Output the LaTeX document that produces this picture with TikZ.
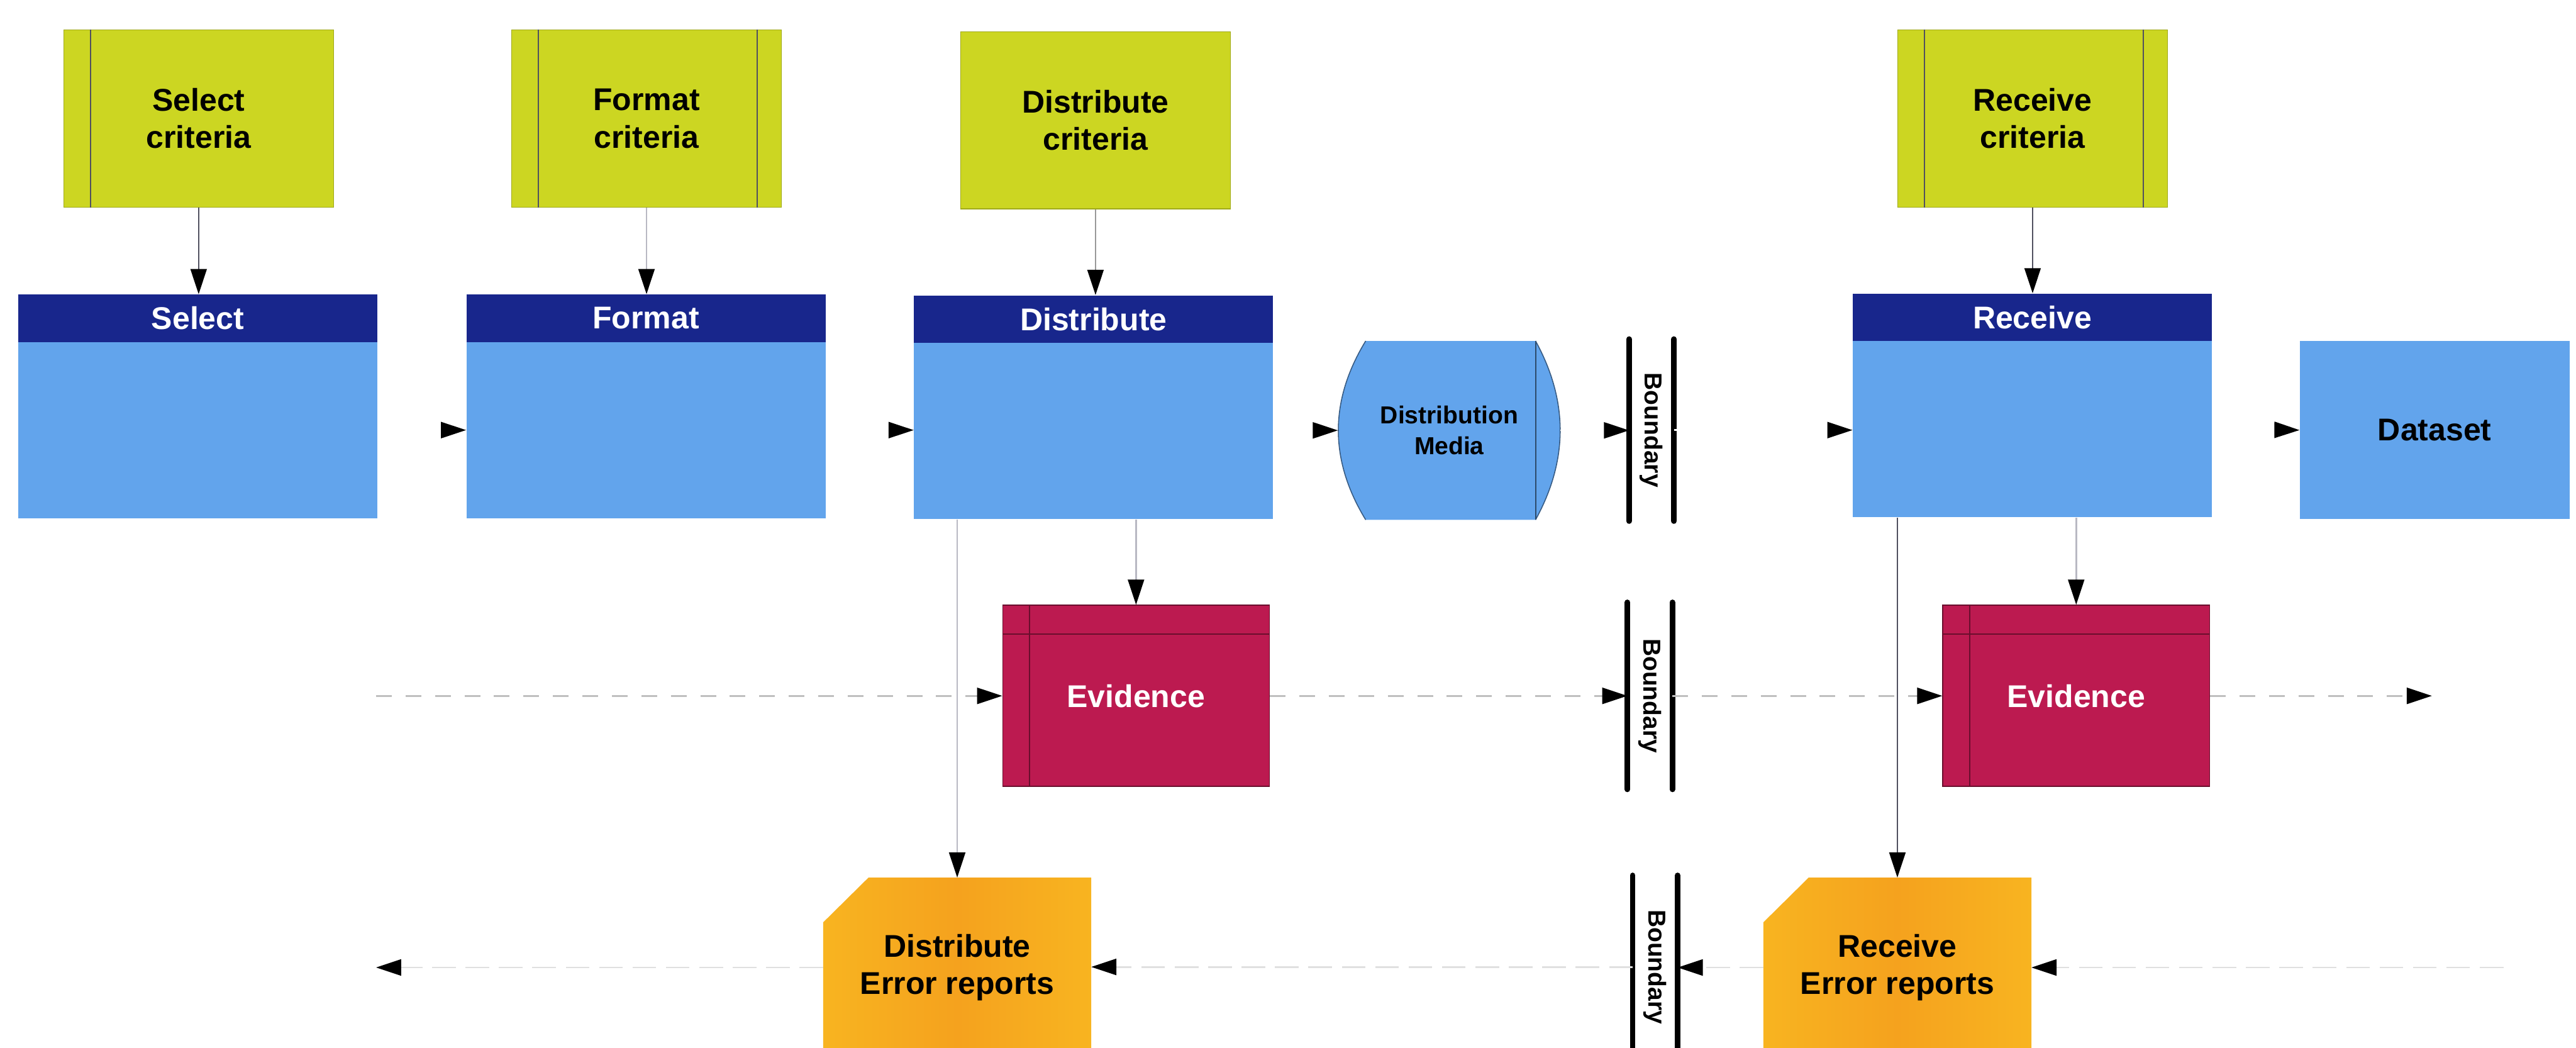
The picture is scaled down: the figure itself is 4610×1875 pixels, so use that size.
\documentclass[tikz,border=0pt]{standalone}
\usepackage{fontspec}
\setmainfont{Liberation Sans}
\usetikzlibrary{arrows.meta,calc,backgrounds}

\definecolor{critfill}{RGB}{204,214,34}
\definecolor{critedge}{RGB}{160,170,25}
\definecolor{headblue}{RGB}{24,38,140}
\definecolor{bodyblue}{RGB}{98,164,236}
\definecolor{evidfill}{RGB}{188,26,80}
\definecolor{evidedge}{RGB}{105,14,45}
\definecolor{errorange}{RGB}{245,162,30}
\definecolor{erryellow}{RGB}{248,180,32}
\definecolor{darkline}{RGB}{80,80,95}
\definecolor{lightline}{RGB}{185,185,195}

\begin{document}
\begin{tikzpicture}[
  x=0.01cm, y=-0.01cm,
  bigfont/.style={font=\fontsize{16}{19}\selectfont\bfseries},
  crit/.style={rectangle, fill=critfill, draw=critedge, line width=0.4pt,
    minimum width=4.82cm, minimum height=3.17cm, inner sep=0pt, align=center, bigfont},
  critbar/.style={draw=darkline, line width=0.6pt},
  prochead/.style={rectangle, fill=headblue, text=white, minimum width=6.42cm,
    minimum height=0.85cm, inner sep=0pt, bigfont},
  procbody/.style={rectangle, fill=bodyblue, minimum width=6.42cm,
    minimum height=3.15cm, inner sep=0pt},
  storebox/.style={rectangle, fill=bodyblue, minimum width=4.82cm,
    minimum height=3.18cm, inner sep=0pt, bigfont},
  mediatext/.style={rectangle, minimum width=3.97cm, minimum height=3.2cm,
    inner sep=0pt, align=center, font=\fontsize{12.5}{15.5}\selectfont\bfseries},
  evbox/.style={rectangle, fill=evidfill, draw=evidedge, line width=0.5pt, text=white,
    minimum width=4.77cm, minimum height=3.24cm, inner sep=0pt, bigfont},
  evline/.style={draw=evidedge, line width=0.6pt},
  errbox/.style={rectangle, minimum width=4.78cm, minimum height=3.2cm,
    inner sep=0pt, align=center, bigfont},
  bndbox/.style={rectangle, minimum width=0.79cm, inner sep=0pt},
  bndtext/.style={font=\fontsize{12.5}{15}\selectfont\bfseries, inner sep=0pt},
  bndline/.style={line width=0.1cm, line cap=round, draw=black},
  headtip/.style={-{Triangle[length=4.5mm,width=2.9mm,color=black,fill=black]}},
  critflow/.style={headtip, line width=0.8pt},
  rowflow/.style={headtip, draw=white, line width=0.8pt},
  evflow/.style={headtip, draw=black!25, dashed, dash pattern=on 8pt off 7pt, line width=0.9pt},
  errflow/.style={headtip, draw=black!12, dashed, dash pattern=on 12pt off 5pt, line width=0.9pt},
  downflow/.style={headtip, line width=0.8pt}
]
\useasboundingbox (0,0) rectangle (4610,1875);

% ---- criteria ----
\node[crit] (selc) at (355.5,212) {Select\\criteria};
\node[crit] (fmtc) at (1157,212) {Format\\criteria};
\node[crit] (dstc) at (1960.5,215) {Distribute\\criteria};
\node[crit] (rcvc) at (3637.5,212) {Receive\\criteria};

\draw[critbar] ($(selc.north west)+(48,0)$) -- ($(selc.south west)+(48,0)$);
\draw[critbar] ($(fmtc.north west)+(48,0)$) -- ($(fmtc.south west)+(48,0)$);
\draw[critbar] ($(fmtc.north east)+(-44,0)$) -- ($(fmtc.south east)+(-44,0)$);
\draw[critbar] ($(rcvc.north west)+(48,0)$) -- ($(rcvc.south west)+(48,0)$);
\draw[critbar] ($(rcvc.north east)+(-44,0)$) -- ($(rcvc.south east)+(-44,0)$);

% ---- processes ----
\node[prochead] (selh) at (354,569.5) {Select};
\node[procbody] (sel) at (354,769.5) {};
\node[prochead] (fmth) at (1156,569.5) {Format};
\node[procbody] (fmt) at (1156,769.5) {};
\node[prochead] (dsth) at (1957,571) {Distribute};
\node[procbody] (dst) at (1957,771) {};
\node[prochead] (rcvh) at (3637,568) {Receive};
\node[procbody] (rcv) at (3637,768) {};

% ---- distribution media (barrel) ----
\node[mediatext] (dm) at (2593.5,770) {Distribution\\Media};
\begin{scope}[on background layer]
  \fill[bodyblue] (2444,610) -- (2748,610)
    .. controls (2806.7,717) and (2806.7,823) .. (2748,930)
    -- (2444,930) .. controls (2378.7,823) and (2378.7,717) .. (2444,610) -- cycle;
\end{scope}
\draw[bodyblue!55!black, line width=0.5pt] (2444,610)
  .. controls (2378.7,717) and (2378.7,823) .. (2444,930);
\draw[bodyblue!55!black, line width=0.5pt] (2748,610)
  .. controls (2806.7,717) and (2806.7,823) .. (2748,930);
\draw[bodyblue!45!black, line width=0.6pt] (2748,610) -- (2748,930);

% ---- dataset ----
\node[storebox] (dat) at (4357,769.5) {Dataset};

% ---- boundaries ----
\node[bndbox, minimum height=3.24cm] (b1) at (2955.5,769.5) {};
\node[bndbox, minimum height=3.33cm] (b2) at (2952.5,1245) {};
\node[bndbox, minimum height=3.26cm] (b3) at (2962,1730) {};
\foreach \b in {b1,b2,b3}{
  \draw[bndline] (\b.north west) -- (\b.south west);
  \draw[bndline] (\b.north east) -- (\b.south east);
}
\node[bndtext, rotate=-90] (b1t) at (b1) {Boundary};
\node[bndtext, rotate=-90] (b2t) at (b2) {Boundary};
\node[bndtext, rotate=-90] (b3t) at (b3) {Boundary};

% ---- evidence ----
\node[evbox] (ev1) at (2033,1245) {Evidence};
\node[evbox] (ev2) at (3715.5,1245) {Evidence};
\foreach \e in {ev1,ev2}{
  \draw[evline] ($(\e.north west)+(0,52)$) -- ($(\e.north east)+(0,52)$);
  \draw[evline] ($(\e.north west)+(49,0)$) -- ($(\e.south west)+(49,0)$);
}

% ---- error reports (chamfered) ----
\node[errbox] (der) at (1713,1731) {Distribute\\Error reports};
\node[errbox] (rer) at (3395.5,1731) {Receive\\Error reports};
\begin{scope}[on background layer]
  \foreach \r in {der,rer}{
    \shade[left color=erryellow, right color=erryellow, middle color=errorange]
      ($(\r.north west)+(0,80)$) -- ($(\r.north west)+(81,0)$) -- (\r.north east)
      -- (\r.south east) -- (\r.south west) -- cycle;
  }
\end{scope}

% ---- criteria into processes ----
\draw[critflow, draw=darkline] (selc.south) -- (selc.south |- selh.north);
\draw[critflow, draw=lightline] (fmtc.south) -- (fmtc.south |- fmth.north);
\draw[critflow, draw=black!40] (dstc.south) -- (dstc.south |- dsth.north);
\draw[critflow, draw=darkline] (rcvc.south) -- (rcvc.south |- rcvh.north);

% ---- main row ----
\draw[rowflow] (sel.east) -- (fmt.west);
\draw[rowflow] (fmt.east) -- (fmt.east -| dst.west);
\draw[rowflow] (dst.east |- dm.west) -- (dm.west);
\draw[rowflow] (dm.east) -- (dm.east -| b1.west);
\draw[rowflow] (b1.east) -- (b1.east -| rcv.west);
\draw[rowflow] (rcv.east) -- (dat.west);

% ---- downward flows ----
\draw[downflow, draw=lightline] (ev1.north |- dst.south) -- (ev1.north);
\draw[downflow, draw=lightline] (der.north |- dst.south) -- (der.north);
\draw[downflow, draw=lightline] (ev2.north |- rcv.south) -- (ev2.north);
\draw[downflow, draw=darkline] (rer.north |- rcv.south) -- (rer.north);

% ---- evidence row ----
\coordinate (evstart) at (673,1245);
\coordinate (evend) at (4352,1245);
\draw[evflow] (evstart) -- (ev1.west);
\draw[evflow] (ev1.east) -- (b2.west);
\draw[evflow] (b2.east) -- (ev2.west);
\draw[evflow] (ev2.east) -- (evend);

% ---- error report row ----
\coordinate (erstart) at (4480,1731);
\coordinate (erend) at (673,1731);
\draw[errflow] (erstart) -- (rer.east);
\draw[errflow] (rer.west) -- (rer.west -| b3.east);
\draw[errflow] (b3.west) -- (b3.west -| der.east);
\draw[errflow] (der.west) -- (erend);
\end{tikzpicture}
\end{document}
